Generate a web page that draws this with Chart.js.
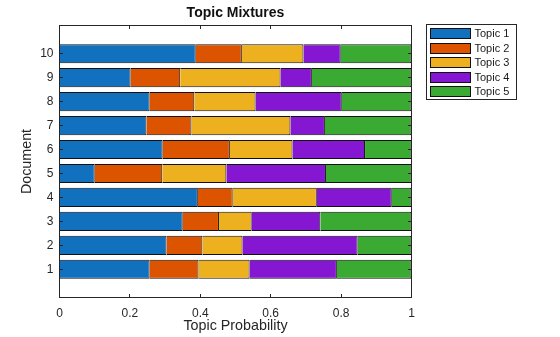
<!DOCTYPE html>
<html>
<head>
<meta charset="utf-8">
<script src="https://cdn.jsdelivr.net/npm/chart.js@4"></script>
<style>
html, body { margin: 0; padding: 0; background: #ffffff; }
canvas { display: block; }
</style>
</head>
<body>
<canvas id="c" width="560" height="337"></canvas>
<script>
// ---- data ----
const documents = [1, 2, 3, 4, 5, 6, 7, 8, 9, 10];
const documentLabels = ['1', '2', '3', '4', '5', '6', '7', '8', '9', '10'];
const topicNames = ['Topic 1', 'Topic 2', 'Topic 3', 'Topic 4', 'Topic 5'];
const topic1 = [0.256, 0.304, 0.350, 0.393, 0.100, 0.293, 0.247, 0.256, 0.202, 0.387];
const topic2 = [0.139, 0.102, 0.103, 0.099, 0.192, 0.191, 0.128, 0.127, 0.141, 0.131];
const topic3 = [0.145, 0.114, 0.093, 0.239, 0.182, 0.178, 0.281, 0.174, 0.285, 0.175];
const topic4 = [0.248, 0.327, 0.195, 0.213, 0.283, 0.206, 0.098, 0.245, 0.089, 0.106];
const topic5 = [0.212, 0.153, 0.259, 0.056, 0.243, 0.132, 0.246, 0.198, 0.283, 0.201];
const xTickValues = [0, 0.2, 0.4, 0.6, 0.8, 1];
const xTickLabels = ['0', '0.2', '0.4', '0.6', '0.8', '1'];

// ---- styles ----
const topicColors = ['#1171BE', '#DD5400', '#EDB120', '#8516D1', '#3BAA32'];
const FONT = '"Liberation Sans", Arial, Helvetica, sans-serif';
const AXIS_COLOR = '#262626';

const series = [topic1, topic2, topic3, topic4, topic5];

// Box around the axes with inward ticks on all four sides (MATLAB style)
const framePlugin = {
  id: 'frame',
  afterDatasetsDraw(chart) {
    const { ctx, chartArea: a, scales: { x, y } } = chart;
    const tl = 3.5;
    ctx.save();
    ctx.strokeStyle = AXIS_COLOR;
    ctx.lineWidth = 1;
    ctx.beginPath();
    x.ticks.forEach(t => {
      const px = Math.floor(x.getPixelForValue(t.value)) + 0.5;
      if (px <= a.left + 1 || px >= a.right - 1) return;
      ctx.moveTo(px, a.bottom); ctx.lineTo(px, a.bottom - tl);
      ctx.moveTo(px, a.top); ctx.lineTo(px, a.top + tl);
    });
    y.ticks.forEach(t => {
      const py = Math.floor(y.getPixelForValue(t.value)) + 0.5;
      ctx.moveTo(a.left, py); ctx.lineTo(a.left + tl, py);
      ctx.moveTo(a.right, py); ctx.lineTo(a.right - tl, py);
    });
    ctx.stroke();
    ctx.strokeRect(a.left, a.top, a.right - a.left, a.bottom - a.top);
    ctx.restore();
  }
};

// Legend box at the upper right, outside the axes
const legendPlugin = {
  id: 'matlabLegend',
  afterDraw(chart) {
    const ctx = chart.ctx;
    const bx = 426.5, by = 24.5, bw = 90, bh = 75;
    ctx.save();
    ctx.fillStyle = '#ffffff';
    ctx.fillRect(bx, by, bw, bh);
    ctx.strokeStyle = AXIS_COLOR;
    ctx.lineWidth = 1;
    ctx.strokeRect(bx, by, bw, bh);
    ctx.font = '11px ' + FONT;
    ctx.textBaseline = 'middle';
    ctx.textAlign = 'left';
    chart.data.datasets.forEach((ds, i) => {
      const top = Math.round(28.3 + i * 14.4);
      ctx.fillStyle = ds.backgroundColor;
      ctx.fillRect(430.5, top + 0.5, 40, 10);
      ctx.strokeStyle = '#111111';
      ctx.strokeRect(430.5, top + 0.5, 40, 10);
      ctx.fillStyle = '#1a1a1a';
      ctx.fillText(ds.label, 474.5, top + 5.8);
    });
    ctx.restore();
  }
};

new Chart(document.getElementById('c'), {
  type: 'bar',
  data: {
    labels: documents,
    datasets: series.map((vals, i) => ({
      label: topicNames[i],
      data: vals,
      backgroundColor: topicColors[i],
      borderColor: '#111111',
      borderWidth: 1,
      borderSkipped: 'start',
      categoryPercentage: 0.8,
      barPercentage: 1.0
    }))
  },
  options: {
    indexAxis: 'y',
    responsive: false,
    animation: false,
    events: [],
    layout: { padding: { left: 0, right: 148.5, top: 0, bottom: 0 } },
    plugins: {
      legend: { display: false },
      tooltip: { enabled: false },
      title: {
        display: true,
        fullSize: false,
        text: 'Topic Mixtures',
        color: '#111111',
        font: { family: FONT, size: 14, weight: 'bold', lineHeight: 1.2 },
        padding: { top: 4.6, bottom: 4.1 }
      }
    },
    scales: {
      x: {
        type: 'linear',
        stacked: true,
        min: 0,
        max: 1,
        offset: false,
        grid: { display: false, drawTicks: false },
        border: { display: false },
        afterBuildTicks: s => { s.ticks = xTickValues.map(v => ({ value: v })); },
        afterFit: s => { s.height = 39.5; },
        ticks: {
          autoSkip: false,
          maxRotation: 0,
          padding: 8.5,
          color: AXIS_COLOR,
          font: { family: FONT, size: 12, lineHeight: 1.2 },
          callback: (v, i) => xTickLabels[i]
        },
        title: {
          display: true,
          text: 'Topic Probability',
          color: AXIS_COLOR,
          font: { family: FONT, size: 14.3, lineHeight: 1.2 },
          padding: { top: 0, bottom: 2 }
        }
      },
      y: {
        type: 'linear',
        stacked: true,
        min: -0.18,
        max: 11.18,
        offset: false,
        grid: { display: false, drawTicks: false },
        border: { display: false },
        afterBuildTicks: s => { s.ticks = documents.map(v => ({ value: v })); },
        afterFit: s => { s.width = 59.5; },
        ticks: {
          autoSkip: false,
          padding: 6,
          color: AXIS_COLOR,
          font: { family: FONT, size: 12, lineHeight: 1.2 },
          callback: (v, i) => documentLabels[i]
        },
        title: {
          display: true,
          text: 'Document',
          color: AXIS_COLOR,
          font: { family: FONT, size: 14.3, lineHeight: 1.2 },
          padding: { top: 18.6, bottom: 0 }
        }
      }
    }
  },
  plugins: [framePlugin, legendPlugin]
});
</script>
</body>
</html>
